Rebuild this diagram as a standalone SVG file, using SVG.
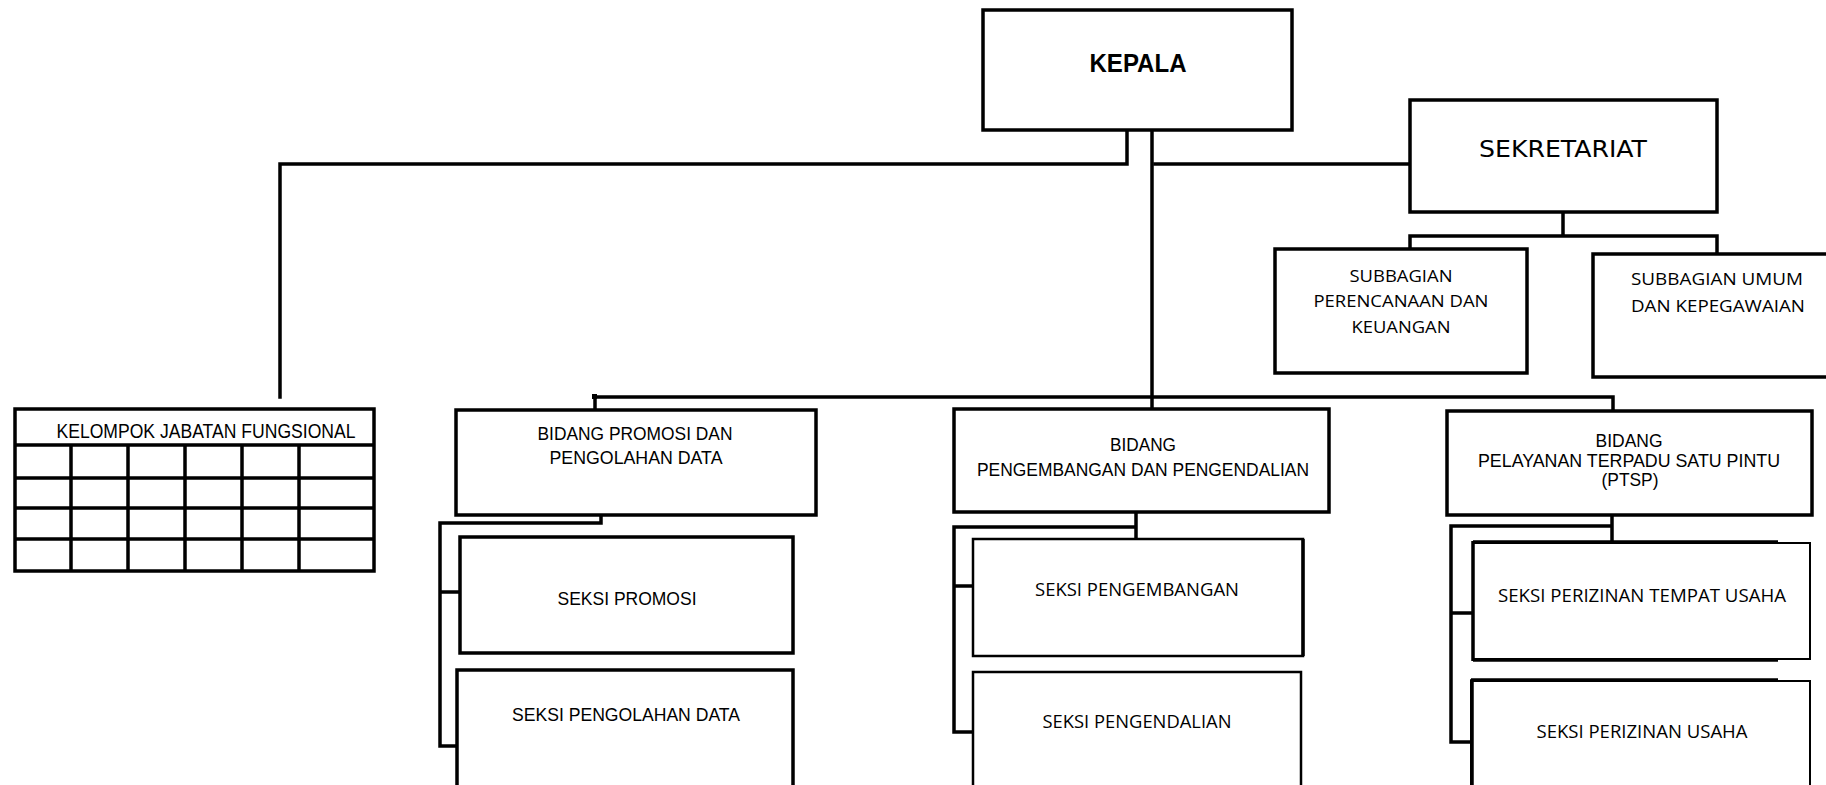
<svg xmlns="http://www.w3.org/2000/svg" width="1826" height="785" viewBox="0 0 1826 785">
<style>
.box{fill:#fff;stroke:#000;stroke-width:3.5}
.thin{fill:#fff;stroke:#000;stroke-width:2.5}
.ln{fill:none;stroke:#000;stroke-width:3.5;stroke-linecap:square}
.tl{fill:none;stroke:#000;stroke-width:3.5}
.a{font-family:"Liberation Sans",Arial,sans-serif;fill:#000;text-anchor:middle}
.c{font-family:"Open Sans","Noto Sans",sans-serif;fill:#000;text-anchor:middle}
.v{font-family:"DejaVu Sans",Verdana,sans-serif;fill:#000;text-anchor:middle}
</style>
<rect width="1826" height="785" fill="#fff"/>
<g id="connectors">
<path class="ln" d="M1127 130 V164 H280 V397"/>
<path class="ln" d="M1152 130 V408"/>
<path class="ln" d="M1155 164 H1410"/>
<path class="ln" d="M1563 212 V236 M1410 236 H1717 M1410 236 V249 M1717 236 V254"/>
<path class="ln" d="M595 397 H1613 V411 M595 397 V410"/>
<rect x="592" y="394" width="5" height="5" fill="#000"/>
<path class="ln" d="M601 515 V523 H440 V746 H457 M440 592 H460"/>
<path class="ln" d="M1136 512 V539 M1136 527 H954 V732 H973 M954 586 H973"/>
<path class="ln" d="M1612 515 V542 M1612 526 H1451 V742 H1471 M1451 613 H1473"/>
</g>
<g id="kepala">
<rect class="box" x="983" y="10" width="309" height="120"/>
<text class="a" x="1138" y="72" font-size="26" font-weight="bold" textLength="97" lengthAdjust="spacingAndGlyphs">KEPALA</text>
</g>
<g id="sekretariat">
<rect class="box" x="1410" y="100" width="307" height="112"/>
<text class="v" x="1563" y="157" font-size="23" textLength="168" lengthAdjust="spacingAndGlyphs">SEKRETARIAT</text>
</g>
<g id="subbagian-perencanaan">
<rect class="box" x="1275" y="249" width="252" height="124"/>
<text class="c" x="1401" y="282" font-size="17" textLength="103" lengthAdjust="spacingAndGlyphs">SUBBAGIAN</text>
<text class="c" x="1401" y="307" font-size="17" textLength="175" lengthAdjust="spacingAndGlyphs">PERENCANAAN DAN</text>
<text class="c" x="1401" y="333" font-size="17" textLength="99" lengthAdjust="spacingAndGlyphs">KEUANGAN</text>
</g>
<g id="subbagian-umum">
<rect class="box" x="1593" y="254" width="240" height="123"/>
<text class="c" x="1717" y="285" font-size="17" textLength="172" lengthAdjust="spacingAndGlyphs">SUBBAGIAN UMUM</text>
<text class="c" x="1718" y="312" font-size="17" textLength="174" lengthAdjust="spacingAndGlyphs">DAN KEPEGAWAIAN</text>
</g>
<g id="kelompok-jabatan-fungsional">
<rect class="box" x="15" y="409" width="359" height="162"/>
<path class="tl" d="M15 445 H374 M15 478 H374 M15 508 H374 M15 539 H374 M71 445 V571 M128 445 V571 M185 445 V571 M242 445 V571 M299 445 V571"/>
<text class="a" x="206" y="438" font-size="20" textLength="299" lengthAdjust="spacingAndGlyphs">KELOMPOK JABATAN FUNGSIONAL</text>
</g>
<g id="bidang-promosi">
<rect class="box" x="456" y="410" width="360" height="105"/>
<text class="a" x="635" y="440" font-size="19" textLength="195" lengthAdjust="spacingAndGlyphs">BIDANG PROMOSI DAN</text>
<text class="a" x="636" y="464" font-size="19" textLength="173" lengthAdjust="spacingAndGlyphs">PENGOLAHAN DATA</text>
</g>
<g id="seksi-promosi">
<rect class="box" x="460" y="537" width="333" height="116"/>
<text class="a" x="627" y="605" font-size="19" textLength="139" lengthAdjust="spacingAndGlyphs">SEKSI PROMOSI</text>
</g>
<g id="seksi-pengolahan-data">
<rect class="box" x="457" y="670" width="336" height="130"/>
<text class="a" x="626" y="721" font-size="19" textLength="228" lengthAdjust="spacingAndGlyphs">SEKSI PENGOLAHAN DATA</text>
</g>
<g id="bidang-pengembangan">
<rect class="box" x="954" y="409" width="375" height="103"/>
<text class="a" x="1143" y="451" font-size="19" textLength="66" lengthAdjust="spacingAndGlyphs">BIDANG</text>
<text class="a" x="1143" y="476" font-size="19" textLength="332" lengthAdjust="spacingAndGlyphs">PENGEMBANGAN DAN PENGENDALIAN</text>
</g>
<g id="seksi-pengembangan">
<rect class="thin" x="973" y="539" width="330" height="117"/>
<path class="tl" d="M1303 539 V656" stroke-width="5"/>
<text class="c" x="1137" y="596" font-size="18" textLength="204" lengthAdjust="spacingAndGlyphs">SEKSI PENGEMBANGAN</text>
</g>
<g id="seksi-pengendalian">
<rect class="thin" x="973" y="672" width="328" height="130"/>
<text class="c" x="1137" y="728" font-size="18" textLength="189" lengthAdjust="spacingAndGlyphs">SEKSI PENGENDALIAN</text>
</g>
<g id="bidang-ptsp">
<rect class="box" x="1447" y="411" width="365" height="104"/>
<text class="a" x="1629" y="447" font-size="18" textLength="67" lengthAdjust="spacingAndGlyphs">BIDANG</text>
<text class="a" x="1629" y="467" font-size="18" textLength="302" lengthAdjust="spacingAndGlyphs">PELAYANAN TERPADU SATU PINTU</text>
<text class="a" x="1630" y="486" font-size="18" textLength="57" lengthAdjust="spacingAndGlyphs">(PTSP)</text>
</g>
<g id="seksi-perizinan-tempat-usaha">
<rect fill="#fff" stroke="#000" stroke-width="2" x="1473" y="543" width="337" height="116"/>
<path class="tl" d="M1473 542 H1778 M1473 660 H1778 M1473 541 V661" stroke-width="4"/>
<text class="c" x="1642" y="602" font-size="18" textLength="288" lengthAdjust="spacingAndGlyphs">SEKSI PERIZINAN TEMPAT USAHA</text>
</g>
<g id="seksi-perizinan-usaha">
<rect fill="#fff" stroke="#000" stroke-width="2" x="1471" y="681" width="339" height="120"/>
<path class="tl" d="M1471 680 H1778 M1472 679 V790" stroke-width="5"/>
<text class="c" x="1642" y="738" font-size="18" textLength="211" lengthAdjust="spacingAndGlyphs">SEKSI PERIZINAN USAHA</text>
</g>
</svg>
